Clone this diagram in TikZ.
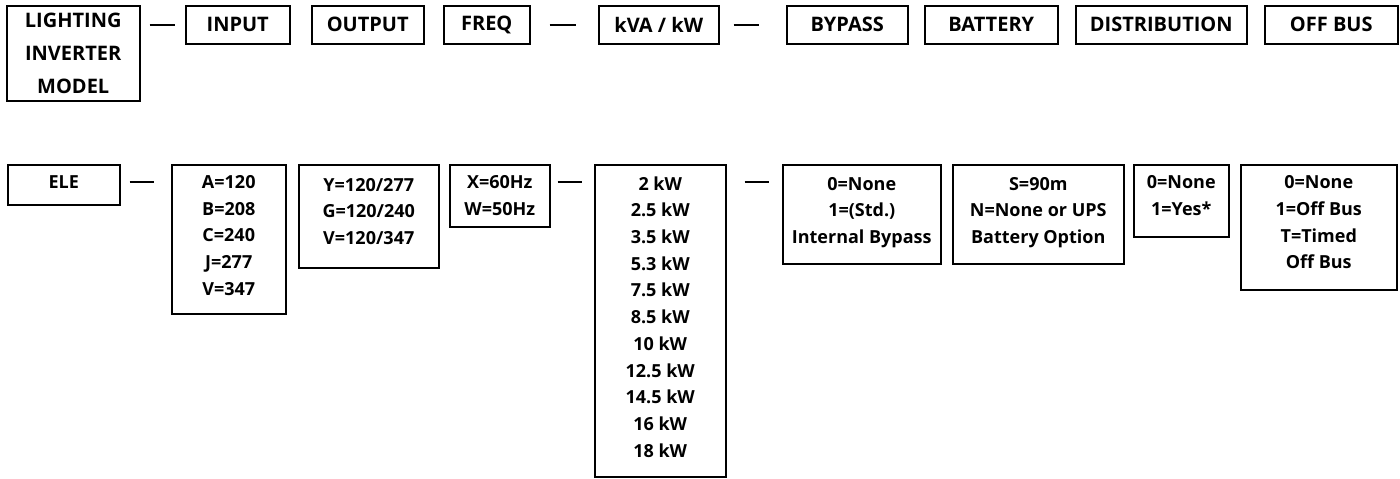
\documentclass[tikz,border=0pt]{standalone}
\usepackage{fontspec}
\newfontfamily\cellfont{Open Sans}
\usetikzlibrary{positioning, calc}
% extra depth below the last line, lifts the text in a tall box
\newcommand{\lowpad}[1]{\rule[-#1]{0pt}{0pt}}

\begin{document}
\begin{tikzpicture}[
    x=0.5pt, y=-0.5pt,
    cell/.style={rectangle, draw=black, line width=0.75pt, inner sep=0pt, align=center, anchor=north west},
    head/.style={cell, minimum height=19pt, font=\cellfont\bfseries\fontsize{10pt}{16.5pt}\selectfont},
    opt/.style={cell, font=\cellfont\bfseries\fontsize{9pt}{13.35pt}\selectfont},
    link/.style={line width=0.75pt}
]
\useasboundingbox (0,0) rectangle (1400,478);

% Header row
\node[head, minimum width=66.5pt, minimum height=47.5pt] (model) at (6,5) {LIGHTING\\INVERTER\\MODEL};
\node[head, minimum width=52pt] (input) at (185,5) {INPUT};
\node[head, minimum width=56pt] (output) at (311,5) {OUTPUT};
\node[head, minimum width=43pt] (freq) at (443,5) {FREQ};
\node[head, minimum width=60pt] (kva) at (598,5) {kVA / kW};
\node[head, minimum width=60.5pt] (bypass) at (786,5) {BYPASS};
\node[head, minimum width=66.5pt] (battery) at (924,5) {BATTERY};
\node[head, minimum width=85.5pt] (distrib) at (1075,5) {DISTRIBUTION};
\node[head, minimum width=66.5pt] (offbus) at (1264,5) {OFF BUS};

% Option row
\node[opt, minimum width=56pt, minimum height=20pt] (ele) at (7,164) {ELE\lowpad{3pt}};
\node[opt, minimum width=57pt, minimum height=74.5pt] (volt) at (171,164) {A=120\\B=208\\C=240\\J=277\\V=347\lowpad{4pt}};
\node[opt, minimum width=70pt, minimum height=51.5pt] (outv) at (298,164) {Y=120/277\\G=120/240\\V=120/347\lowpad{5pt}};
\node[opt, minimum width=50pt, minimum height=31pt] (hz) at (449,164) {X=60Hz\\W=50Hz};
\node[opt, minimum width=65.5pt, minimum height=156pt] (kw) at (594,164) {2 kW\\2.5 kW\\3.5 kW\\5.3 kW\\7.5 kW\\8.5 kW\\10 kW\\12.5 kW\\14.5 kW\\16 kW\\18 kW\lowpad{4pt}};
\node[opt, minimum width=79pt, minimum height=49.5pt] (byp) at (782,164) {0=None\\1=(Std.)\\Internal Bypass\lowpad{4pt}};
\node[opt, minimum width=85.5pt, minimum height=49.5pt] (bat) at (952,164) {S=90m\\N=None or UPS\\Battery Option\lowpad{4pt}};
\node[opt, minimum width=47.5pt, minimum height=36pt] (dist) at (1133,164) {0=None\\1=Yes*\lowpad{5pt}};
\node[opt, minimum width=78pt, minimum height=62.5pt] (off) at (1240,164) {0=None\\1=Off Bus\\T=Timed\\Off Bus\lowpad{5pt}};

% Separators
\draw[link] ($(model.east |- input.west)+(9,0)$) -- ($(input.west)+(-10,0)$);
\draw[link] ($(freq.east)+(19,0)$) -- ($(kva.west)+(-22,0)$);
\draw[link] ($(kva.east)+(14,0)$) -- ($(bypass.west)+(-27,0)$);
\draw[link] ($(ele.east)+(9,-3)$) -- ($(volt.west |- ele.east)+(-17,-3)$);
\draw[link] ($(hz.east |- ele.east)+(7,-3)$) -- ($(kw.west |- ele.east)+(-12,-3)$);
\draw[link] ($(kw.east |- ele.east)+(18,-3)$) -- ($(byp.west |- ele.east)+(-13,-3)$);

\end{tikzpicture}
\end{document}
